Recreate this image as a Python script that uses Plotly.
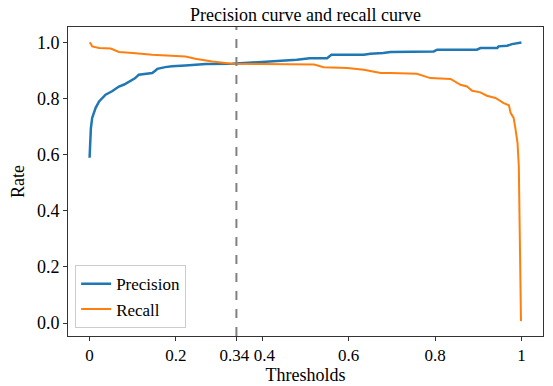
import plotly.graph_objects as go

# ---- data ----
thr_precision = [0, 0.001, 0.003, 0.006, 0.014, 0.022, 0.037, 0.052, 0.068, 0.08, 0.091,
                 0.105, 0.114, 0.13, 0.145, 0.152, 0.157, 0.175, 0.191, 0.222, 0.269, 0.33, 0.40,
                 0.48, 0.51, 0.55, 0.56, 0.635, 0.65, 0.68, 0.697, 0.797, 0.805, 0.897,
                 0.905, 0.944, 0.947, 0.967, 0.978, 0.99, 1.0]
precision = [0.589, 0.648, 0.695, 0.731, 0.767, 0.79, 0.814, 0.826, 0.843, 0.85, 0.861,
             0.872, 0.885, 0.888, 0.891, 0.899, 0.906, 0.912, 0.915, 0.918, 0.923, 0.924, 0.930,
             0.938, 0.944, 0.944, 0.956, 0.956, 0.96, 0.962, 0.966, 0.968, 0.974, 0.974,
             0.98, 0.98, 0.986, 0.988, 0.994, 0.997, 1.0]

thr_recall = [0, 0.003, 0.006, 0.022, 0.049, 0.068, 0.1, 0.145, 0.222, 0.245, 0.284, 0.33,
              0.40, 0.52, 0.542, 0.597, 0.635, 0.674, 0.697, 0.758, 0.789, 0.836, 0.859,
              0.874, 0.886, 0.905, 0.92, 0.94, 0.959, 0.971, 0.975, 0.982, 0.986, 0.988,
              0.991, 0.994, 0.996, 0.998, 0.999]
recall = [1.0, 0.995, 0.986, 0.98, 0.978, 0.966, 0.962, 0.956, 0.95, 0.942, 0.932, 0.924,
          0.923, 0.921, 0.912, 0.909, 0.903, 0.891, 0.891, 0.888, 0.873, 0.87, 0.849,
          0.843, 0.828, 0.822, 0.81, 0.802, 0.784, 0.776, 0.749, 0.731, 0.695, 0.678,
          0.642, 0.559, 0.381, 0.203, 0.007]

best_threshold = 0.34
x_tick_vals = [0, 0.2, 0.34, 0.4, 0.6, 0.8, 1]
x_tick_text = ["0", "0.2", "0.34\u00a0", "\u00a00.4", "0.6", "0.8", "1"]
y_tick_vals = [0.0, 0.2, 0.4, 0.6, 0.8, 1.0]
y_tick_text = ["0.0", "0.2", "0.4", "0.6", "0.8", "1.0"]

FONT = "Liberation Serif, Times New Roman, serif"

fig = go.Figure()
fig.add_trace(go.Scatter(x=thr_precision, y=precision, mode="lines", name="Precision",
                         line=dict(color="#1f77b4", width=2.5)))
fig.add_trace(go.Scatter(x=thr_recall, y=recall, mode="lines", name="Recall",
                         line=dict(color="#ff7f0e", width=2)))

fig.add_shape(type="line", xref="x", yref="paper", x0=best_threshold, x1=best_threshold,
              y0=0, y1=1, line=dict(color="#808080", width=2, dash="dash"), layer="above")

# page body has an 8px default margin, so the figure is sized to fit inside 553x386
fig.update_layout(
    width=545, height=378,
    margin=dict(l=60, r=10, t=19, b=50),
    paper_bgcolor="white", plot_bgcolor="white",
    font=dict(family=FONT, size=18, color="black"),
    title=dict(text="Precision curve and recall curve", x=0.5, xref="paper",
               xanchor="center", y=0.981, yanchor="middle",
               font=dict(family=FONT, size=18, color="black")),
    showlegend=True,
    legend=dict(x=0.015, y=0.025, xanchor="left", yanchor="bottom",
                bordercolor="#cccccc", borderwidth=1, bgcolor="rgba(255,255,255,0.8)",
                font=dict(family=FONT, size=17), tracegroupgap=0, itemwidth=30),
)
fig.update_xaxes(range=[-0.05, 1.05], tickvals=x_tick_vals, ticktext=x_tick_text,
                 tickangle=0, automargin=False, tickfont=dict(family=FONT, size=17),
                 showgrid=False, zeroline=False, showline=True, mirror=True,
                 linecolor="#333333", linewidth=1, ticks="outside", ticklen=4,
                 tickcolor="#333333",
                 title=dict(text="Thresholds", standoff=0, font=dict(family=FONT, size=18)))
fig.update_yaxes(range=[-0.046, 1.055], tickvals=y_tick_vals, ticktext=y_tick_text,
                 automargin=False,
                 showgrid=False, zeroline=False, showline=True, mirror=True,
                 linecolor="#333333", linewidth=1, ticks="outside", ticklen=4,
                 tickcolor="#333333",
                 title=dict(text="Rate", standoff=8, font=dict(family=FONT, size=18)))

fig.write_html("out.html")
